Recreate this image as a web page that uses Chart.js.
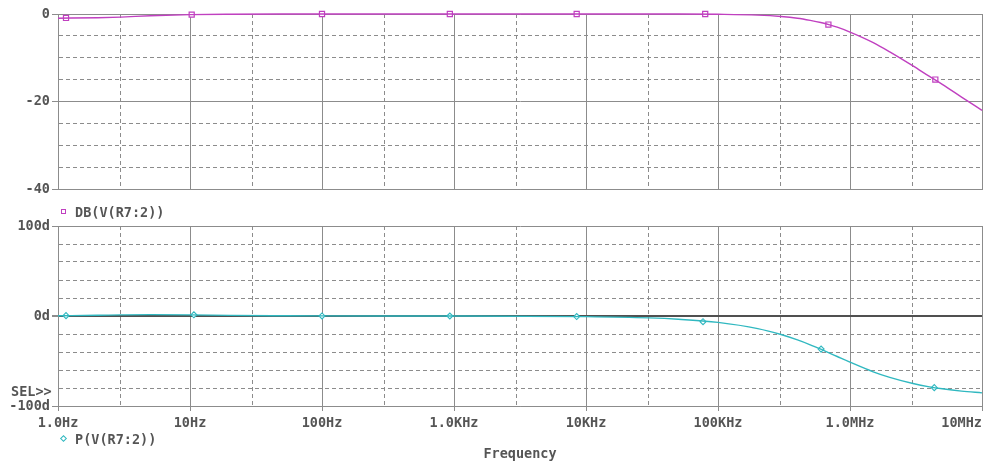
<!DOCTYPE html>
<html>
<head>
<meta charset="utf-8">
<script src="https://cdn.jsdelivr.net/npm/chart.js@4.4.1/dist/chart.umd.min.js"></script>
<style>
  html, body { margin: 0; padding: 0; background: #fff; }
  body { width: 984px; height: 463px; position: relative; overflow: hidden;
         font: bold 13.5px "DejaVu Sans Mono", monospace; color: #555; }
  .box { position: absolute; left: 0; }
  #topBox { top: 0; width: 984px; height: 200px; }
  /* wider than the window so the right-hand label can hang past the plot edge */
  #botBox { top: 200px; width: 1034px; height: 263px; }
  .lbl { position: absolute; white-space: pre; line-height: 14px; }
  .sq { position: absolute; width: 3px; height: 3px; border: 1px solid #c040c0; }
  .dm { position: absolute; width: 3px; height: 3px; border: 1px solid #30b8c0; transform: rotate(45deg); }
</style>
</head>
<body>
<div class="box" id="topBox"><canvas id="magChart"></canvas></div>
<div class="box" id="botBox"><canvas id="phaseChart"></canvas></div>
<span class="sq" style="left:61px;top:209px"></span>
<span class="lbl" style="left:75px;top:205px">DB(V(R7:2))</span>
<span class="dm" style="left:61px;top:436px"></span>
<span class="lbl" style="left:75px;top:432px">P(V(R7:2))</span>
<span class="lbl" style="left:11px;top:384px">SEL&gt;&gt;</span>
<script>
// sweep points (Hz) and values
var freqHz = [1, 2, 3, 5, 10, 20, 50, 100, 1e3, 1e4, 3e4, 5e4, 1e5, 2e5, 3e5, 4e5, 5e5, 6e5, 7e5, 8e5, 1e6, 1.5e6, 2e6, 3e6, 4e6, 5e6, 7e6, 1e7];
var magDb = [-0.95, -0.85, -0.7, -0.4, -0.15, -0.05, 0, 0, 0, 0, 0, 0, -0.07, -0.26, -0.57, -0.97, -1.46, -1.94, -2.46, -3.0, -4.1, -6.5, -8.6, -11.8, -14.2, -16.0, -18.9, -21.9];
var phaseDeg = [0.3, 0.8, 1.2, 1.5, 1.3, 0.7, 0.3, 0.1, 0, -0.7, -2.1, -3.6, -7.1, -14.0, -20.6, -26.6, -32.0, -36.9, -41.2, -45.0, -51.3, -62.0, -68.2, -75.0, -78.7, -80.9, -83.5, -85.4];

// probe markers
var magMarkHz = [1.15, 10.3, 100, 930, 8500, 80000, 686000, 4430000];
var magMarkDb = [-0.9, -0.15, 0, 0, 0, 0, -2.4, -14.9];
var phaseMarkHz = [1.15, 10.7, 100, 930, 8500, 77000, 604000, 4350000];
var phaseMarkDeg = [0.4, 1.3, 0.1, 0, -0.6, -6.3, -36.8, -79.6];

// axes
var decadeTicks = [1, 10, 100, 1e3, 1e4, 1e5, 1e6, 1e7];
var decadeLabels = ['1.0Hz', '10Hz', '100Hz', '1.0KHz', '10KHz', '100KHz', '1.0MHz', '10MHz'];
var minorTicks = [3, 30, 300, 3e3, 3e4, 3e5, 3e6];
var magGrid = [-40, -35, -30, -25, -20, -15, -10, -5, 0];
var magLabelValues = [0, -20, -40];
var phaseGrid = [-100, -80, -60, -40, -20, 0, 20, 40, 60, 80, 100];
var phaseLabelValues = [100, 0, -100];
var phaseLabels = ['100d', '0d', '-100d'];

var MAG = '#c040c0', PH = '#30b8c0', GRID = '#8c8c8c';

Chart.defaults.font = { family: '"DejaVu Sans Mono", monospace', size: 13.5, weight: 'bold' };
Chart.defaults.color = '#555';

function pts(xs, ys) {
  return xs.map(function (x, i) { return { x: x, y: ys[i] }; });
}

function setTicks(list, majors) {
  return function (scale) {
    scale.ticks = list.map(function (v) {
      return { value: v, major: majors.indexOf(v) >= 0 };
    }).sort(function (a, b) { return a.value - b.value; });
  };
}

var xTickList = decadeTicks.concat(minorTicks);

function isMajor(ctx) { return ctx.tick && ctx.tick.major; }

function xAxis(showLabels) {
  return {
    type: 'logarithmic',
    min: 1, max: 1e7,
    afterBuildTicks: setTicks(xTickList, decadeTicks),
    afterFit: function (s) { s.height = showLabels ? 57 : 0; },
    grid: {
      color: GRID,
      drawTicks: showLabels,
      tickLength: 5,
      tickColor: function (ctx) { return isMajor(ctx) ? GRID : 'rgba(0,0,0,0)'; }
    },
    border: { color: GRID, dash: function (ctx) { return isMajor(ctx) ? [] : [4, 3]; } },
    ticks: {
      display: showLabels,
      autoSkip: false,
      maxRotation: 0,
      padding: 4,
      callback: function (v) {
        var i = decadeTicks.indexOf(v);
        if (i < 0) return '';
        // last label sits inside the right edge like the original
        return i === decadeTicks.length - 1 ? decadeLabels[i] + '     ' : decadeLabels[i];
      }
    },
    title: { display: showLabels, text: 'Frequency', padding: { top: 0, bottom: 0 } }
  };
}

function yGrid(isZero) {
  return {
    color: function (ctx) { return isZero(ctx) ? '#505050' : GRID; },
    lineWidth: function (ctx) { return isZero(ctx) ? 2 : 1; },
    tickLength: 6,
    tickColor: function (ctx) { return isMajor(ctx) ? GRID : 'rgba(0,0,0,0)'; }
  };
}

new Chart(document.getElementById('magChart'), {
  type: 'line',
  data: {
    datasets: [{
      data: pts(freqHz, magDb),
      borderColor: MAG, borderWidth: 1.4, pointRadius: 0,
      cubicInterpolationMode: 'monotone', clip: false
    }, {
      data: pts(magMarkHz, magMarkDb),
      showLine: false, pointStyle: 'rect', pointRadius: 3.6,
      pointBorderColor: MAG, pointBackgroundColor: '#fff', pointBorderWidth: 1.2, clip: false
    }]
  },
  options: {
    responsive: true, maintainAspectRatio: false, animation: false,
    layout: { autoPadding: false, padding: { left: 0, top: 14, right: 2, bottom: 6 } },
    plugins: { legend: { display: false }, tooltip: { enabled: false } },
    scales: {
      x: xAxis(false),
      y: {
        min: -40, max: 0,
        afterBuildTicks: setTicks(magGrid, magLabelValues),
        afterFit: function (s) { s.width = 58; },
        grid: yGrid(function () { return false; }),
        border: { color: GRID, dash: function (ctx) { return isMajor(ctx) ? [] : [4, 3]; } },
        ticks: {
          autoSkip: false,
          padding: 2,
          callback: function (v) { return magLabelValues.indexOf(v) >= 0 ? String(v) : ''; }
        }
      }
    }
  }
});

new Chart(document.getElementById('phaseChart'), {
  type: 'line',
  data: {
    datasets: [{
      data: pts(freqHz, phaseDeg),
      borderColor: PH, borderWidth: 1.4, pointRadius: 0,
      cubicInterpolationMode: 'monotone', clip: false
    }, {
      data: pts(phaseMarkHz, phaseMarkDeg),
      showLine: false, pointStyle: 'rectRot', pointRadius: 3,
      pointBorderColor: PH, pointBackgroundColor: '#fff', pointBorderWidth: 1.1, clip: false
    }]
  },
  options: {
    responsive: true, maintainAspectRatio: false, animation: false,
    layout: { autoPadding: false, padding: { left: 0, top: 26, right: 52, bottom: 0 } },
    plugins: { legend: { display: false }, tooltip: { enabled: false } },
    scales: {
      x: xAxis(true),
      y: {
        min: -100, max: 100,
        afterBuildTicks: setTicks(phaseGrid, phaseLabelValues),
        afterFit: function (s) { s.width = 58; },
        grid: yGrid(function (ctx) { return ctx.tick && ctx.tick.value === 0; }),
        border: { color: GRID, dash: function (ctx) { return isMajor(ctx) ? [] : [4, 3]; } },
        ticks: {
          autoSkip: false,
          padding: 2,
          callback: function (v) {
            var i = phaseLabelValues.indexOf(v);
            return i < 0 ? '' : phaseLabels[i];
          }
        }
      }
    }
  }
});
</script>
</body>
</html>
